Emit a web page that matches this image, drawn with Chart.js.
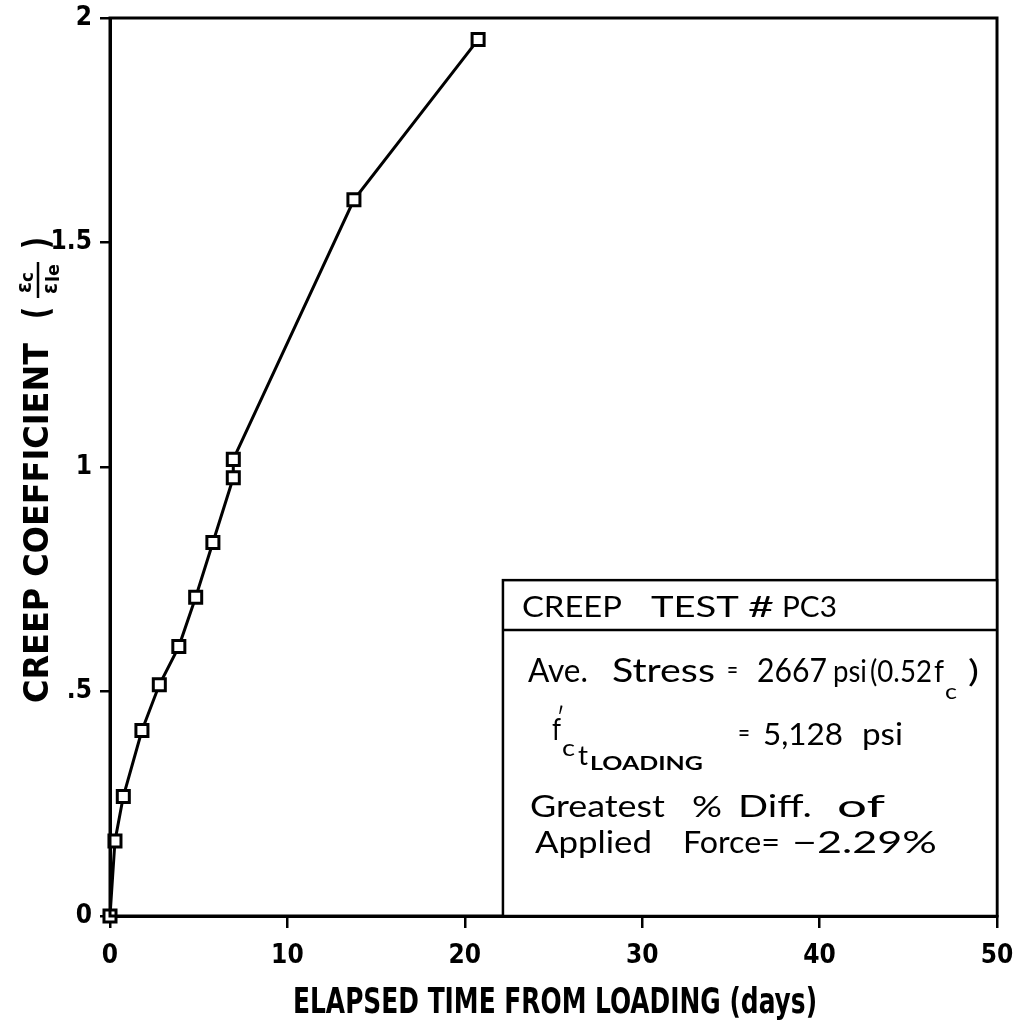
<!DOCTYPE html>
<html>
<head>
<meta charset="utf-8">
<script src="https://cdn.jsdelivr.net/npm/chart.js@4"></script>
<style>
  html, body { margin: 0; padding: 0; background: #fff; }
  #wrap { width: 1016px; height: 1025px; position: relative; }
</style>
</head>
<body>
<div id="wrap"><canvas id="c" width="1016" height="1025"></canvas></div>
<script>
// ---- data ----
const elapsedDays = [0, 0.28, 0.75, 1.8, 2.78, 3.88, 4.83, 5.8, 6.95, 6.95, 13.75, 20.75];
const creepCoeff  = [0, 0.167, 0.266, 0.413, 0.515, 0.600, 0.710, 0.832, 0.976, 1.017, 1.595, 1.952];
const xTickValues = [0, 10, 20, 30, 40, 50];
const yTickLabels = { 0: '0', 0.5: '.5', 1: '1', 1.5: '1.5', 2: '2' };
const xTitle = 'ELAPSED TIME FROM LOADING (days)';
const yTitle = 'CREEP COEFFICIENT';

const TICKFAM = '"Liberation Sans Narrow", "DejaVu Sans Condensed", "DejaVu Sans", sans-serif';
const BOLD = 'bold {s}px "DejaVu Sans Condensed", "Liberation Sans Narrow", "DejaVu Sans", sans-serif';
const LIGHT = '{w} {s}px Lato, "DejaVu Sans", sans-serif';
const bold = s => BOLD.replace('{s}', s);
const light = (s, w) => LIGHT.replace('{s}', s).replace('{w}', w || 'normal');

function fitText(ctx, text, x, y, w, font) {
  ctx.save();
  ctx.font = font;
  const m = ctx.measureText(text).width;
  ctx.translate(x, y);
  if (w) ctx.scale(w / m, 1);
  ctx.fillText(text, 0, 0);
  ctx.restore();
}

const decor = {
  id: 'decor',
  afterDraw(chart) {
    const ctx = chart.ctx;
    const a = chart.chartArea;
    const xs = chart.scales.x, ys = chart.scales.y;
    ctx.save();
    ctx.fillStyle = '#000';
    ctx.strokeStyle = '#000';
    // frame
    ctx.lineWidth = 3;
    ctx.strokeRect(a.left, a.top, a.right - a.left, a.bottom - a.top);

    // x title
    ctx.textAlign = 'left';
    ctx.textBaseline = 'alphabetic';
    fitText(ctx, xTitle, 293, 1013, 524, bold(36));

    // y title (rotated)
    ctx.save();
    ctx.rotate(-Math.PI / 2);
    // screen(X,Y) => local(-Y, X)
    ctx.textBaseline = 'middle';
    ctx.textAlign = 'left';
    fitText(ctx, yTitle, -703, 39, 360, bold(33));
    fitText(ctx, '(', -319, 39, 12, 'bold 36px "DejaVu Sans", sans-serif');
    fitText(ctx, ')', -249, 39, 12, 'bold 36px "DejaVu Sans", sans-serif');
    // fraction
    fitText(ctx, '\u03B5', -293, 25, 11, 'bold 22px "DejaVu Sans", sans-serif');
    fitText(ctx, 'c', -282, 29, 10, 'bold 17px "DejaVu Sans", sans-serif');
    ctx.lineWidth = 2.5;
    ctx.beginPath(); ctx.moveTo(-298, 38); ctx.lineTo(-262, 38); ctx.stroke();
    fitText(ctx, '\u03B5', -294, 51, 11, 'bold 22px "DejaVu Sans", sans-serif');
    fitText(ctx, 'le', -282, 55, 18, 'bold 17px "DejaVu Sans", sans-serif');
    ctx.restore();

    // annotation box
    const L = xs.getPixelForValue(22.15);
    const T = ys.getPixelForValue(0.748);
    const D = ys.getPixelForValue(0.637);
    const R = a.right, B = a.bottom;
    ctx.fillStyle = '#fff';
    ctx.fillRect(L, T, R - L, B - T);
    ctx.fillStyle = '#000';
    ctx.lineWidth = 2.5;
    ctx.strokeRect(L, T, R - L, B - T);
    ctx.beginPath(); ctx.moveTo(L, D); ctx.lineTo(R, D); ctx.stroke();

    const X = x => L + (x - 503);
    const Y = y => T + (y - 580);
    ctx.textAlign = 'left';
    ctx.textBaseline = 'alphabetic';
    fitText(ctx, 'CREEP', X(522), Y(617), 100, light(28));
    fitText(ctx, 'TEST', X(651), Y(617), 88, light(28));
    fitText(ctx, '#', X(748), Y(617), 26, light(28));
    fitText(ctx, 'PC3', X(782), Y(617), 55, light(28));

    fitText(ctx, 'Ave.', X(528), Y(682), 60, light(32));
    fitText(ctx, 'Stress', X(612), Y(682), 103, light(32));
    fitText(ctx, '=', X(727), Y(679), 11, light(26));
    fitText(ctx, '2667', X(757), Y(682), 70, light(32));
    fitText(ctx, 'psi', X(833), Y(682), 34, light(30));
    fitText(ctx, '(0.52', X(870), Y(682), 62, light(30));
    fitText(ctx, 'f', X(934), Y(682), 10, light(30));
    fitText(ctx, 'c', X(945), Y(699), 12, light(22));
    fitText(ctx, ')', X(968), Y(682), 11, light(30));

    fitText(ctx, 'f', X(552), Y(740), 9, light(30));
    fitText(ctx, '\u2032', X(557), Y(727), 7, light(26));
    fitText(ctx, 'c', X(562), Y(756), 13, light(24));
    fitText(ctx, 't', X(578), Y(765), 10, light(26));
    fitText(ctx, 'LOADING', X(590), Y(770), 113, 'bold 19px Lato, "DejaVu Sans", sans-serif');
    fitText(ctx, '=', X(738), Y(742), 12, light(26));
    fitText(ctx, '5,128', X(763), Y(745), 80, light(31));
    fitText(ctx, 'psi', X(862), Y(745), 41, light(31));

    fitText(ctx, 'Greatest', X(530), Y(817), 135, light(30));
    fitText(ctx, '%', X(692), Y(817), 30, light(28));
    fitText(ctx, 'Diff.', X(738), Y(817), 74, light(30));
    fitText(ctx, 'of', X(837), Y(817), 48, light(30));

    fitText(ctx, 'Applied', X(535), Y(853), 117, light(30));
    fitText(ctx, 'Force=', X(683), Y(853), 97, light(30));
    fitText(ctx, '\u22122.29%', X(792), Y(853), 145, light(30));
    ctx.restore();
  }
};

const points = elapsedDays.map((d, i) => ({ x: d, y: creepCoeff[i] }));

new Chart(document.getElementById('c'), {
  type: 'scatter',
  data: {
    datasets: [{
      data: points,
      showLine: true,
      clip: false,
      borderColor: '#000',
      borderWidth: 3,
      tension: 0,
      pointStyle: 'rect',
      pointRadius: 8.5,
      pointBorderWidth: 3,
      pointBackgroundColor: '#fff',
      pointBorderColor: '#000'
    }]
  },
  options: {
    responsive: false,
    animation: false,
    devicePixelRatio: 1,
    layout: { padding: { left: 0, right: 19, top: 18, bottom: 0 } },
    plugins: { legend: { display: false }, tooltip: { enabled: false } },
    scales: {
      x: {
        type: 'linear', min: 0, max: 50,
        afterFit(s) { s.height = 109; s.paddingLeft = 0; s.paddingRight = 0; },
        afterBuildTicks(s) { s.ticks = xTickValues.map(v => ({ value: v })); },
        ticks: {
          color: '#000', padding: 13, maxRotation: 0,
          font: { family: TICKFAM, size: 26, weight: 'bold' }
        },
        grid: { drawOnChartArea: false, drawTicks: true, tickLength: 12, color: '#000', lineWidth: 2.5 },
        border: { display: true, color: '#000', width: 3 }
      },
      y: {
        type: 'linear', min: 0, max: 2,
        afterFit(s) { s.width = 110; s.paddingTop = 0; s.paddingBottom = 0; },
        ticks: {
          stepSize: 0.5, color: '#000', padding: 8,
          callback: v => yTickLabels[v] !== undefined ? yTickLabels[v] : '',
          font: { family: TICKFAM, size: 26, weight: 'bold' }
        },
        grid: { drawOnChartArea: false, drawTicks: true, tickLength: 10, color: '#000', lineWidth: 2.5 },
        border: { display: true, color: '#000', width: 3 }
      }
    }
  },
  plugins: [decor]
});
</script>
</body>
</html>
